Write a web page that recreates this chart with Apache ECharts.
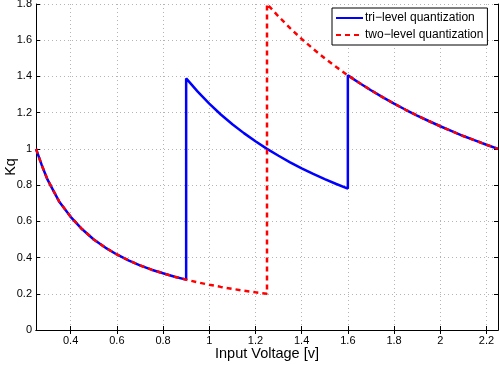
<!DOCTYPE html>
<html>
<head>
<meta charset="utf-8">
<script src="https://cdn.jsdelivr.net/npm/echarts@6/dist/echarts.min.js"></script>
<style>html,body{margin:0;padding:0;background:#fff}#c{width:500px;height:365px}</style>
</head>
<body>
<div id="c"></div>
<script>
var xTicks = [0.4, 0.6, 0.8, 1.0, 1.2, 1.4, 1.6, 1.8, 2.0, 2.2];
var triX = [0.25,0.275,0.3,0.325,0.35,0.4,0.45,0.5,0.55,0.6,0.65,0.7,0.75,0.8,0.85,0.9,
            0.9,0.95,1.0,1.05,1.1,1.15,1.2,1.25,1.3,1.35,1.4,1.45,1.5,1.55,1.6,
            1.6,1.65,1.7,1.75,1.8,1.85,1.9,1.95,2.0,2.05,2.1,2.15,2.2,2.25];
var triY = [1.0,0.91,0.83,0.77,0.71,0.625,0.556,0.5,0.455,0.417,0.385,0.357,0.333,0.313,0.294,0.278,
            1.389,1.316,1.25,1.19,1.136,1.087,1.042,1.0,0.962,0.926,0.893,0.862,0.833,0.806,0.781,
            1.406,1.364,1.324,1.286,1.25,1.216,1.184,1.154,1.125,1.098,1.071,1.047,1.023,1.0];
var twoX = [0.25,0.275,0.3,0.325,0.35,0.4,0.45,0.5,0.55,0.6,0.65,0.7,0.75,0.8,0.85,0.9,0.95,1.0,1.05,1.1,1.15,1.2,1.25,
            1.25,1.3,1.35,1.4,1.45,1.5,1.55,1.6,1.65,1.7,1.75,1.8,1.85,1.9,1.95,2.0,2.05,2.1,2.15,2.2,2.25];
var twoY = [1.0,0.91,0.83,0.77,0.71,0.625,0.556,0.5,0.455,0.417,0.385,0.357,0.333,0.313,0.294,0.278,0.263,0.25,0.238,0.227,0.217,0.208,0.2,
            1.8,1.731,1.667,1.607,1.552,1.5,1.452,1.406,1.364,1.324,1.286,1.25,1.216,1.184,1.154,1.125,1.098,1.071,1.047,1.023,1.0];
var seriesNames = ['tri\u2212level quantization', 'two\u2212level quantization'];

function pairs(xs, ys){ return xs.map(function(x,i){ return [x, ys[i]]; }); }

var font = 'Liberation Sans, Arial, Helvetica, sans-serif';
var chart = echarts.init(document.getElementById('c'), null, {renderer:'canvas'});
var splitStyle = {show:true, lineStyle:{color:'#b4b4b4', type:[1,3], width:1}};
chart.setOption({
  animation:false,
  backgroundColor:'#fff',
  textStyle:{fontFamily:font},
  grid:{left:36, right:2, top:4, bottom:35, containLabel:false, outerBoundsMode:'none'},
  legend:{
    orient:'vertical', left:332, top:8, padding:[4,4,4,3], itemGap:5,
    itemWidth:27, itemHeight:12, backgroundColor:'#fff',
    borderColor:'#000', borderWidth:1,
    itemStyle:{opacity:0, borderWidth:0},
    textStyle:{fontFamily:font, fontSize:12, color:'#000', padding:[0,0,0,-3]},
    data:seriesNames
  },
  xAxis:[{
    type:'value', min:0.25, max:2.25, position:'bottom',
    name:'Input Voltage [v]', nameLocation:'middle', nameGap:16, nameMoveOverlap:false,
    nameTextStyle:{fontFamily:font, fontSize:14.5, color:'#000'},
    axisLine:{show:true, lineStyle:{color:'#000', width:1}},
    axisTick:{show:true, inside:true, length:4, customValues:xTicks, lineStyle:{color:'#000'}},
    axisLabel:{show:true, customValues:xTicks, color:'#000', fontSize:11, margin:5, fontFamily:font,
      formatter:function(v){ return String(Math.round(v*10)/10); }},
    splitLine:splitStyle
  },{
    type:'value', min:0.25, max:2.25, position:'top',
    axisLine:{show:true, lineStyle:{color:'#000', width:1}},
    axisTick:{show:true, inside:true, length:4, customValues:xTicks, lineStyle:{color:'#000'}},
    axisLabel:{show:false}, splitLine:{show:false}
  }],
  yAxis:[{
    type:'value', min:0, max:1.8, interval:0.2, position:'left',
    name:'Kq', nameLocation:'middle', nameGap:18, nameMoveOverlap:false,
    nameTextStyle:{fontFamily:font, fontSize:14.5, color:'#000'},
    axisLine:{show:true, lineStyle:{color:'#000', width:1}},
    axisTick:{show:true, inside:true, length:4, lineStyle:{color:'#000'}},
    axisLabel:{color:'#000', fontSize:11, margin:4, fontFamily:font,
      formatter:function(v){ return String(Math.round(v*10)/10); }},
    splitLine:splitStyle
  },{
    type:'value', min:0, max:1.8, interval:0.2, position:'right',
    axisLine:{show:true, lineStyle:{color:'#000', width:1}},
    axisTick:{show:true, inside:true, length:4, lineStyle:{color:'#000'}},
    axisLabel:{show:false}, splitLine:{show:false}
  }],
  series:[{
    name:seriesNames[0], type:'line', data:pairs(triX, triY),
    showSymbol:false, symbol:'none', smooth:false,
    lineStyle:{color:'#0000ff', width:2.5}, itemStyle:{color:'#0000ff'}, z:2
  },{
    name:seriesNames[1], type:'line', data:pairs(twoX, twoY),
    showSymbol:false, symbol:'none', smooth:false,
    lineStyle:{color:'#ff0000', width:2.5, type:[5,4]}, itemStyle:{color:'#ff0000'}, z:3
  }]
});
</script>
</body>
</html>
